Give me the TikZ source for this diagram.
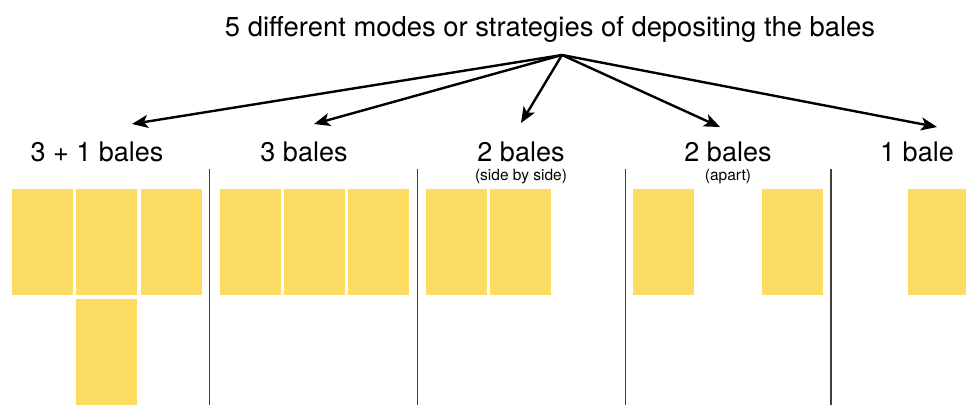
\documentclass[tikz,border=0pt]{standalone}
\usepackage{fontspec}
\setmainfont{TeX Gyre Heros}
\usetikzlibrary{arrows.meta}
\definecolor{baleyellow}{RGB}{253,220,99}
\tikzset{
  bale/.style={fill=baleyellow},
  mode/.style={anchor=base,font=\fontsize{27}{30}\selectfont},
  note/.style={anchor=base,font=\fontsize{15.5}{18}\selectfont},
  choice/.style={line width=2.4pt,-{Stealth[length=16pt,width=13pt,inset=4pt]}},
  divider/.style={line width=1.3pt,black!75}
}
\newcommand{\bale}[2]{\fill[bale] (#1,#2) rectangle ++(61,106);}
\begin{document}
\begin{tikzpicture}[x=1pt,y=-1pt]
\useasboundingbox (0,0) rectangle (966,405);
\node[anchor=base,font=\fontsize{27.4}{30}\selectfont] (title) at (550,36) {5 different modes or strategies of depositing the bales};
\coordinate (hub) at (562,55);
% labels
\node[mode] (m1) at (97,161) {3 + 1 bales};
\node[mode] (m2) at (304,161) {3 bales};
\node[mode] (m3) at (521,161) {2 bales};
\node[mode] (m4) at (728,161) {2 bales};
\node[mode] (m5) at (917,161) {1 bale};
\node[note] (n3) at (521,180) {(side by side)};
\node[note] (n4) at (728,180) {(apart)};
% arrows
\coordinate (t1) at (132,124);
\coordinate (t2) at (314,124);
\coordinate (t3) at (521,123);
\coordinate (t4) at (720,127);
\coordinate (t5) at (937,127);
\foreach \t in {t1,t2,t3,t4,t5}
  \draw[choice] (hub) -- (\t);
% dividers
\foreach \x in {209.7,417.7,625.7,831}
  \draw[divider] (\x,169) -- (\x,405);
% bales
\bale{12}{189} \bale{76}{189} \bale{141}{189}
\bale{76}{299}
\bale{220}{189} \bale{284}{189} \bale{348}{189}
\bale{426}{189} \bale{490}{189}
\bale{633}{189} \bale{762}{189}
\fill[bale] (908,189) rectangle (966,295);
\end{tikzpicture}
\end{document}
